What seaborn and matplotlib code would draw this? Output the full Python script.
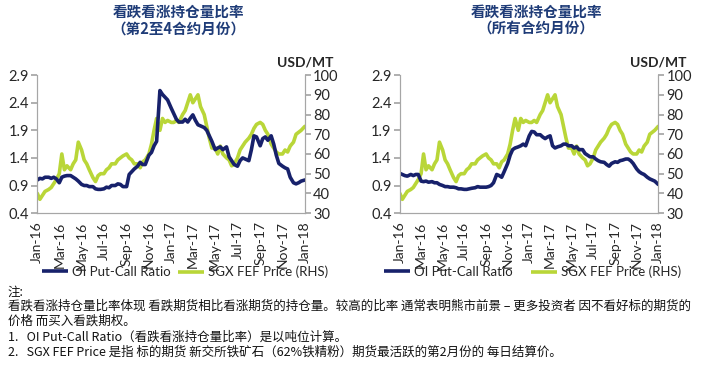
import pandas as pd
import seaborn as sns
import matplotlib.pyplot as plt
import matplotlib.dates as mdates
from matplotlib.lines import Line2D

# weekly-ish readings, 4 per month (days 1, 8, 15, 22) from Jan-16, plus Jan-18
months = pd.date_range('2016-01-01', '2017-12-01', freq='MS')
days = [0, 7, 14, 21]
dates = [m + pd.Timedelta(days=d) for m in months for d in days] + [pd.Timestamp('2018-01-01')]

# SGX FEF price (USD/MT), same series on both panels
fef_price = [
    40, 37, 39, 41,  42, 43, 45, 47,  50, 60, 52, 54,  52, 55, 57, 66,
    62, 57, 55, 52,  48, 46, 49, 50,  50, 52, 53, 55,  55, 57, 58, 59,
    60, 58, 57, 55,  55, 53, 56, 57,  60, 65, 72, 78,  72, 78, 76, 77,
    76, 76, 77, 76,  80, 82, 86, 90,  86, 88, 90, 84,  80, 74, 68, 63,
    63, 60, 64, 60,  58, 57, 54, 55,  58, 62, 64, 66,  68, 70, 73, 75,
    76, 75, 72, 70,  65, 63, 61, 60,  60, 62, 61, 64,  66, 70, 71, 72,
    74,
]

# OI put-call ratio, 2nd to 4th contract months
pcr_2to4 = [
    1.00, 1.03, 1.02, 1.05,  1.05, 1.03, 1.05, 1.02,  0.95, 1.05, 1.07, 1.08,
    1.08, 1.05, 1.02, 0.98,  0.92, 0.90, 0.90, 0.88,  0.88, 0.84, 0.83, 0.83,
    0.84, 0.87, 0.86, 0.90,  0.90, 0.93, 0.92, 0.88,  0.88, 1.10, 1.15, 1.20,
    1.25, 1.32, 1.28, 1.28,  1.45, 1.50, 1.62, 1.70,  2.62, 2.55, 2.50, 2.45,
    2.30, 2.20, 2.10, 2.05,  2.05, 2.10, 2.05, 2.12,  2.18, 2.08, 2.00, 1.98,
    1.95, 1.90, 1.80, 1.70,  1.55, 1.58, 1.60, 1.55,  1.60, 1.42, 1.35, 1.28,
    1.25, 1.35, 1.40, 1.38,  1.35, 1.55, 1.80, 1.78,  1.62, 1.75, 1.78, 1.72,
    1.80, 1.65, 1.45, 1.30,  1.25, 1.22, 1.20, 1.05,  0.95, 0.93, 0.95, 0.98,
    1.00,
]

# OI put-call ratio, all contract months
pcr_all = [
    1.12, 1.10, 1.08, 1.07,  1.10, 1.08, 1.10, 1.10,  0.98, 0.97, 0.98, 0.96,
    0.97, 0.95, 0.95, 0.92,  0.90, 0.88, 0.88, 0.87,  0.87, 0.86, 0.84, 0.84,
    0.83, 0.83, 0.84, 0.85,  0.86, 0.88, 0.87, 0.87,  0.87, 0.88, 0.90, 0.95,
    1.10, 1.08, 1.05, 1.15,  1.30, 1.45, 1.55, 1.58,  1.60, 1.62, 1.65, 1.62,
    1.80, 1.88, 1.87, 1.82,  1.82, 1.78, 1.75, 1.78,  1.80, 1.62, 1.58, 1.60,
    1.62, 1.65, 1.65, 1.62,  1.62, 1.58, 1.60, 1.55,  1.55, 1.48, 1.45, 1.42,
    1.42, 1.38, 1.35, 1.33,  1.32, 1.28, 1.25, 1.30,  1.33, 1.32, 1.35, 1.36,
    1.38, 1.38, 1.35, 1.30,  1.20, 1.15, 1.12, 1.10,  1.05, 1.02, 1.00, 0.98,
    0.92,
]

titles = ['看跌看涨持仓量比率\n（第2至4合约月份）', '看跌看涨持仓量比率\n（所有合约月份）']
series_labels = ['OI Put-Call Ratio', 'SGX FEF Price (RHS)']
notes = [
    '注:',
    '看跌看涨持仓量比率体现 看跌期货相比看涨期货的持仓量。较高的比率 通常表明熊市前景 – 更多投资者 因不看好标的期货的',
    '价格 而买入看跌期权。',
    '1.   OI Put-Call Ratio（看跌看涨持仓量比率）是以吨位计算。',
    '2.   SGX FEF Price 是指 标的期货 新交所铁矿石（62%铁精粉）期货最活跃的第2月份的 每日结算价。',
]

navy = '#17216b'
lime = '#b9d638'
grey = '#a6a6a6'

sns.set_theme(style='white')
plt.rcParams['font.family'] = ['Lato', 'Noto Sans CJK SC', 'DejaVu Sans']
cjk = ['Noto Sans CJK SC', 'DejaVu Sans']

fig = plt.figure(figsize=(7.04, 3.70), dpi=100)
# axes left, width, ratio series, legend entry x positions (px)
panels = [(0.053, 0.380, pcr_2to4, (42, 178)), (0.568, 0.367, pcr_all, (384, 531))]

for (left, width, ratio, leg_x), title in zip(panels, titles):
    ax = fig.add_axes([left, 0.424, width, 0.373])
    ax2 = ax.twinx()
    df = pd.DataFrame({'date': dates, 'ratio': ratio, 'price': fef_price})
    sns.lineplot(data=df, x='date', y='price', ax=ax2, color=lime, lw=2.6)
    sns.lineplot(data=df, x='date', y='ratio', ax=ax, color=navy, lw=2.6)
    ax.set_zorder(ax2.get_zorder() + 1)
    ax.patch.set_visible(False)

    ax.set_ylim(0.4, 2.9)
    ax.set_yticks([0.4, 0.9, 1.4, 1.9, 2.4, 2.9])
    ax2.set_ylim(30, 100)
    ax2.set_yticks(range(30, 101, 10))
    ax.set_xlim(pd.Timestamp('2016-01-01'), pd.Timestamp('2018-01-01'))
    ax.xaxis.set_major_locator(mdates.MonthLocator(interval=2))
    ax.xaxis.set_major_formatter(mdates.DateFormatter('%b-%y'))
    ax.tick_params(axis='x', rotation=90, labelsize=10, length=4, color=grey, pad=2)
    ax.tick_params(axis='y', labelsize=10.5, length=4, color=grey, pad=2, left=True)
    ax2.tick_params(axis='y', labelsize=10.5, length=4, color=grey, pad=2, right=True)
    ax.set_xlabel('')
    ax.set_ylabel('')
    ax2.set_ylabel('')
    for a in (ax, ax2):
        for s in a.spines.values():
            s.set_color(grey)
            s.set_linewidth(0.8)
        a.spines['top'].set_visible(False)

    bb = ax.get_position()
    fig.text((bb.x0 + bb.x1) / 2 + 0.01, 0.99, title, ha='center', va='top',
             fontsize=10.5, fontweight='bold', color='#1f3c78', family=cjk, linespacing=1.1)
    fig.text(bb.x1, 0.815, 'USD/MT', ha='center', va='bottom', fontsize=10, fontweight='bold')

    handles = [Line2D([], [], color=navy, lw=2.6, solid_capstyle='butt'),
               Line2D([], [], color=lime, lw=2.6, solid_capstyle='butt')]
    for h, lab, x in zip(handles, series_labels, leg_x):
        fig.legend([h], [lab], loc='center left', bbox_to_anchor=(x / 704, 1 - 272 / 370),
                   frameon=False, fontsize=9.5, handlelength=2.0, handletextpad=0.3,
                   borderaxespad=0, borderpad=0)

ys = [292, 306, 321, 337, 352]
for y, line in zip(ys, notes):
    fig.text(0.011, 1 - y / 370, line, ha='left', va='center', fontsize=9, family=cjk,
             color='#111111')

fig.savefig('out.png', dpi=100)
